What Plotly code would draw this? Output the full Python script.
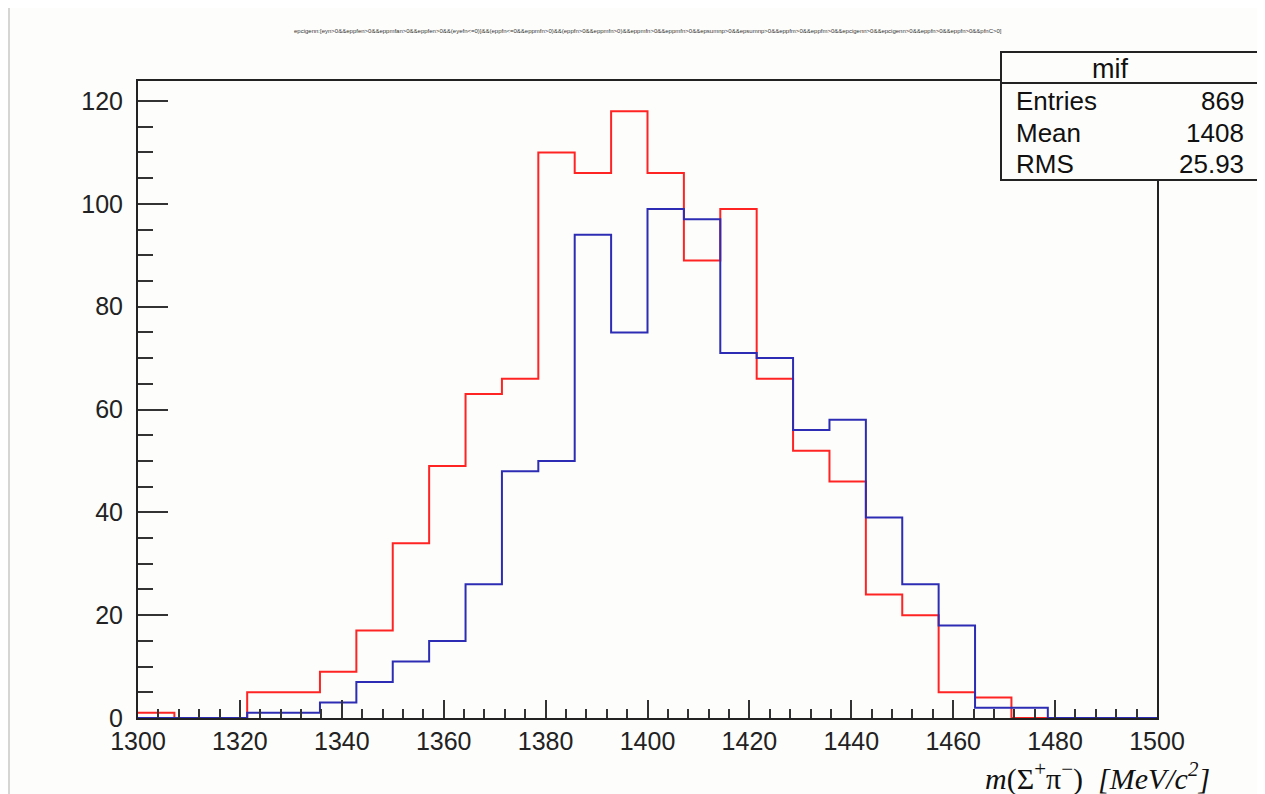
import plotly.graph_objects as go

# ---- data ----
x_min, x_max, n_bins = 1300.0, 1500.0, 28
red_counts = [1, 0, 0, 5, 5, 9, 17, 34, 49, 63, 66, 110, 106, 118, 106, 89, 99,
              66, 52, 46, 24, 20, 5, 4, 0, 0, 0, 0]
blue_counts = [0, 0, 0, 1, 1, 3, 7, 11, 15, 26, 48, 50, 94, 75, 99, 97, 71,
               70, 56, 58, 39, 26, 18, 2, 2, 0, 0, 0]
x_ticks = [1300, 1320, 1340, 1360, 1380, 1400, 1420, 1440, 1460, 1480, 1500]
y_ticks = [0, 20, 40, 60, 80, 100, 120]
stats_name = "mif"
stats_labels = ["Entries", "Mean", "RMS"]
stats_values = ["869", "1408", "25.93"]
title_text = ("epcigenn:[eyn>0&&eppfen>0&&eppmfan>0&&eppfen>0&&(eyefn<=0)]&&(eppfn<=0&&eppmfn>0)&&"
              "(eppfn>0&&eppmfn>0)&&eppmfn>0&&eppmfn>0&&epsumnp>0&&epsumnp>0&&eppfm>0&&"
              "eppfm>0&&epcigenn>0&&epcigenn>0&&eppfn>0&&eppfn>0&&pfnC>0]")

W, H = 1265, 794          # window size
OFF = 8                   # page body margin
L, R, T, B = 138, 1157, 81, 718   # plot frame in window pixels
y_top = 123.9

bw = (x_max - x_min) / n_bins
edges = [x_min + i * bw for i in range(n_bins + 1)]


def px(xp):
    return (xp - L) / (R - L)


def py(yp):
    return (B - yp) / (B - T)


fig = go.Figure()
for counts, color in ((red_counts, "#ff2424"), (blue_counts, "#2c2cb4")):
    fig.add_trace(go.Scatter(
        x=edges, y=counts + [counts[-1]], mode="lines",
        line=dict(color=color, width=2, shape="hv"),
        hoverinfo="skip", showlegend=False))

axis_common = dict(
    showgrid=False, zeroline=False, showline=True, linecolor="#222", linewidth=2,
    mirror=True, ticks="inside", tickcolor="#333", tickwidth=2,
    tickfont=dict(family="Liberation Sans, Arial", size=25, color="#222"),
)
fig.update_xaxes(range=[x_min, x_max], tickvals=x_ticks, ticklen=18,
                 minor=dict(ticks="inside", dtick=4, ticklen=9, tickcolor="#333", tickwidth=2),
                 **axis_common)
fig.update_yaxes(range=[0, y_top], tickvals=y_ticks, ticklen=30, ticklabelstandoff=8,
                 minor=dict(ticks="inside", dtick=5, ticklen=15, tickcolor="#333", tickwidth=2),
                 **axis_common)

shapes = [
    dict(type="rect", xref="paper", yref="paper", x0=px(10), x1=px(W + 20), y0=py(H + 20), y1=py(3),
         fillcolor="#fdfdfb", line=dict(width=0), layer="below"),
    dict(type="rect", xref="paper", yref="paper", x0=px(1001), x1=px(1258), y0=py(180), y1=py(52),
         fillcolor="#fdfdfb", line=dict(color="#222", width=2), layer="above"),
    dict(type="line", xref="paper", yref="paper", x0=px(1001), x1=px(1258), y0=py(83), y1=py(83),
         line=dict(color="#222", width=2), layer="above"),
]

ann = [
    dict(text=title_text, x=px(648), y=py(31), xref="paper", yref="paper", showarrow=False,
         yanchor="middle", font=dict(family="Liberation Sans, Arial", size=6, color="#333")),
    dict(text=stats_name, x=px(1130), y=py(69), xref="paper", yref="paper", showarrow=False,
         yanchor="middle", font=dict(family="Liberation Sans, Arial", size=27, color="#111")),
]
for i, (lab, val) in enumerate(zip(stats_labels, stats_values)):
    yy = py(101 + i * 31.5)
    ann.append(dict(text=lab, x=px(1014), y=yy, xref="paper", yref="paper", showarrow=False,
                    xanchor="left", yanchor="middle",
                    font=dict(family="Liberation Sans, Arial", size=26, color="#111")))
    ann.append(dict(text=val, x=px(1246), y=yy, xref="paper", yref="paper", showarrow=False,
                    xanchor="right", yanchor="middle",
                    font=dict(family="Liberation Sans, Arial", size=26, color="#111")))
ann.append(dict(text="<i>m</i>(Σ<sup>+</sup>π<sup>−</sup>)  <i>[MeV/c<sup>2</sup>]</i>",
                x=px(1212), y=py(776), xref="paper", yref="paper", showarrow=False,
                xanchor="right", yanchor="middle",
                font=dict(family="Liberation Serif, Times New Roman", size=30, color="#111")))

fig.update_layout(
    width=W - OFF, height=H - OFF, autosize=False,
    margin=dict(l=L - OFF, r=W - R, t=T - OFF, b=H - B, pad=0),
    paper_bgcolor="#d6d6d4", plot_bgcolor="#fdfdfb",
    shapes=shapes, annotations=ann,
)

fig.write_html("out.html")
